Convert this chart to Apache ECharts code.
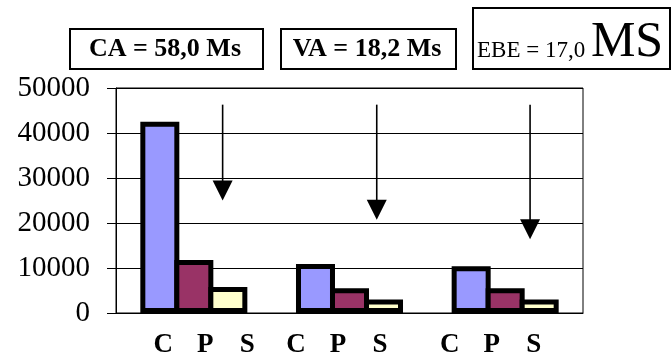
<!DOCTYPE html>
<html><head><meta charset="utf-8">
<script src="https://cdn.jsdelivr.net/npm/echarts@6/dist/echarts.min.js"></script>
<style>html,body{margin:0;padding:0;background:#fff}#c{width:671px;height:360px}</style>
</head><body><div id="c"></div>
<script>
const groups = ['CA', 'VA', 'EBE'];
const seriesNames = ['C', 'P', 'S'];
const valuesC = [42500, 10900, 10400];
const valuesP = [11800, 5500, 5500];
const valuesS = [5800, 3000, 3000];
const yMin = 0, yMax = 50000, yStep = 10000;
const arrowX = [0.685, 1.675, 2.66];
const arrowTop = [46300, 46300, 46300];
const arrowTip = [25000, 20700, 16400];
const boxTexts = ['CA = 58,0 Ms', 'VA = 18,2 Ms'];
const ebeText = 'EBE = 17,0 ';
const ebeUnit = 'MS';

const colors = ['#9999FF', '#993366', '#FFFFCC'];
const serif = '"Liberation Serif", "Times New Roman", serif';
const chart = echarts.init(document.getElementById('c'));

const labelShift = [[23, 0], [0, 23], [0, 27]];
const rich = { l: { width: 42, align: 'center', fontFamily: serif, fontWeight: 'bold', fontSize: 27, color: '#000' } };
labelShift.forEach((s, i) => {
  rich['sp' + i] = { width: s[0] };
  rich['ep' + i] = { width: s[1] };
});

const barSeries = [valuesC, valuesP, valuesS].map((vals, i) => ({
  name: seriesNames[i],
  type: 'bar',
  data: vals,
  barWidth: 39,
  barGap: '-12.8%',
  itemStyle: { color: colors[i], borderColor: '#000', borderWidth: 5 },
  emphasis: { disabled: true },
  z: 3
}));

const arrowData = arrowX.map((x, i) => [x, arrowTop[i], arrowTip[i]]);

const option = {
  animation: false,
  backgroundColor: '#fff',
  grid: { left: 116, right: 88, top: 88, bottom: 47, show: true, borderColor: '#000', borderWidth: 1, containLabel: false },
  xAxis: [{
    type: 'category',
    data: groups,
    axisLine: { lineStyle: { color: '#000', width: 1 } },
    axisTick: { show: false },
    axisLabel: {
      margin: 19,
      interval: 0,
      hideOverlap: false,
      formatter: (v, idx) => `{sp${idx}| }` + seriesNames.map(n => `{l|${n}}`).join('') + `{ep${idx}| }`,
      rich: rich
    }
  }, {
    type: 'value', min: 0, max: groups.length, show: false
  }],
  yAxis: {
    type: 'value', min: yMin, max: yMax, interval: yStep,
    axisLine: { show: true, lineStyle: { color: '#000', width: 1 } },
    axisTick: { show: true, length: 9, lineStyle: { color: '#000' } },
    splitLine: { show: true, lineStyle: { color: '#000', width: 1 } },
    axisLabel: { margin: 26, color: '#000', fontFamily: serif, fontSize: 29, formatter: v => String(v) }
  },
  series: barSeries.concat([{
    type: 'custom',
    xAxisIndex: 1,
    yAxisIndex: 0,
    data: arrowData,
    z: 5,
    renderItem: (params, api) => {
      const p1 = api.coord([api.value(0), api.value(1)]);
      const p2 = api.coord([api.value(0), api.value(2)]);
      const head = 20, hw = 10;
      return {
        type: 'group',
        children: [{
          type: 'line',
          shape: { x1: p1[0], y1: p1[1], x2: p2[0], y2: p2[1] - head + 2 },
          style: { stroke: '#000', lineWidth: 1.6 }
        }, {
          type: 'polygon',
          shape: { points: [[p2[0] - hw, p2[1] - head], [p2[0] + hw, p2[1] - head], [p2[0], p2[1]]] },
          style: { fill: '#000' }
        }]
      };
    }
  }]),
  graphic: [
    { type: 'rect', left: 69, top: 28, shape: { width: 193, height: 40 }, style: { fill: '#fff', stroke: '#000', lineWidth: 2 } },
    { type: 'text', x: 165, y: 49, style: { text: boxTexts[0], font: 'bold 26px ' + serif, fill: '#000', align: 'center', verticalAlign: 'middle' } },
    { type: 'rect', left: 280, top: 28, shape: { width: 175, height: 40 }, style: { fill: '#fff', stroke: '#000', lineWidth: 2 } },
    { type: 'text', x: 367, y: 49, style: { text: boxTexts[1], font: 'bold 26px ' + serif, fill: '#000', align: 'center', verticalAlign: 'middle' } },
    { type: 'rect', left: 472, top: 7, shape: { width: 197, height: 61 }, style: { fill: '#fff', stroke: '#000', lineWidth: 2 } },
    { type: 'text', x: 477, y: 68, style: {
      text: '{a|' + ebeText + '}{b|' + ebeUnit + '}',
      verticalAlign: 'bottom',
      rich: {
        a: { fontFamily: serif, fontSize: 23, fill: '#000', verticalAlign: 'bottom', padding: [0, 0, 6, 0] },
        b: { fontFamily: serif, fontSize: 50, fill: '#000', verticalAlign: 'bottom' }
      }
    } }
  ]
};
chart.setOption(option);
</script>
</body></html>
